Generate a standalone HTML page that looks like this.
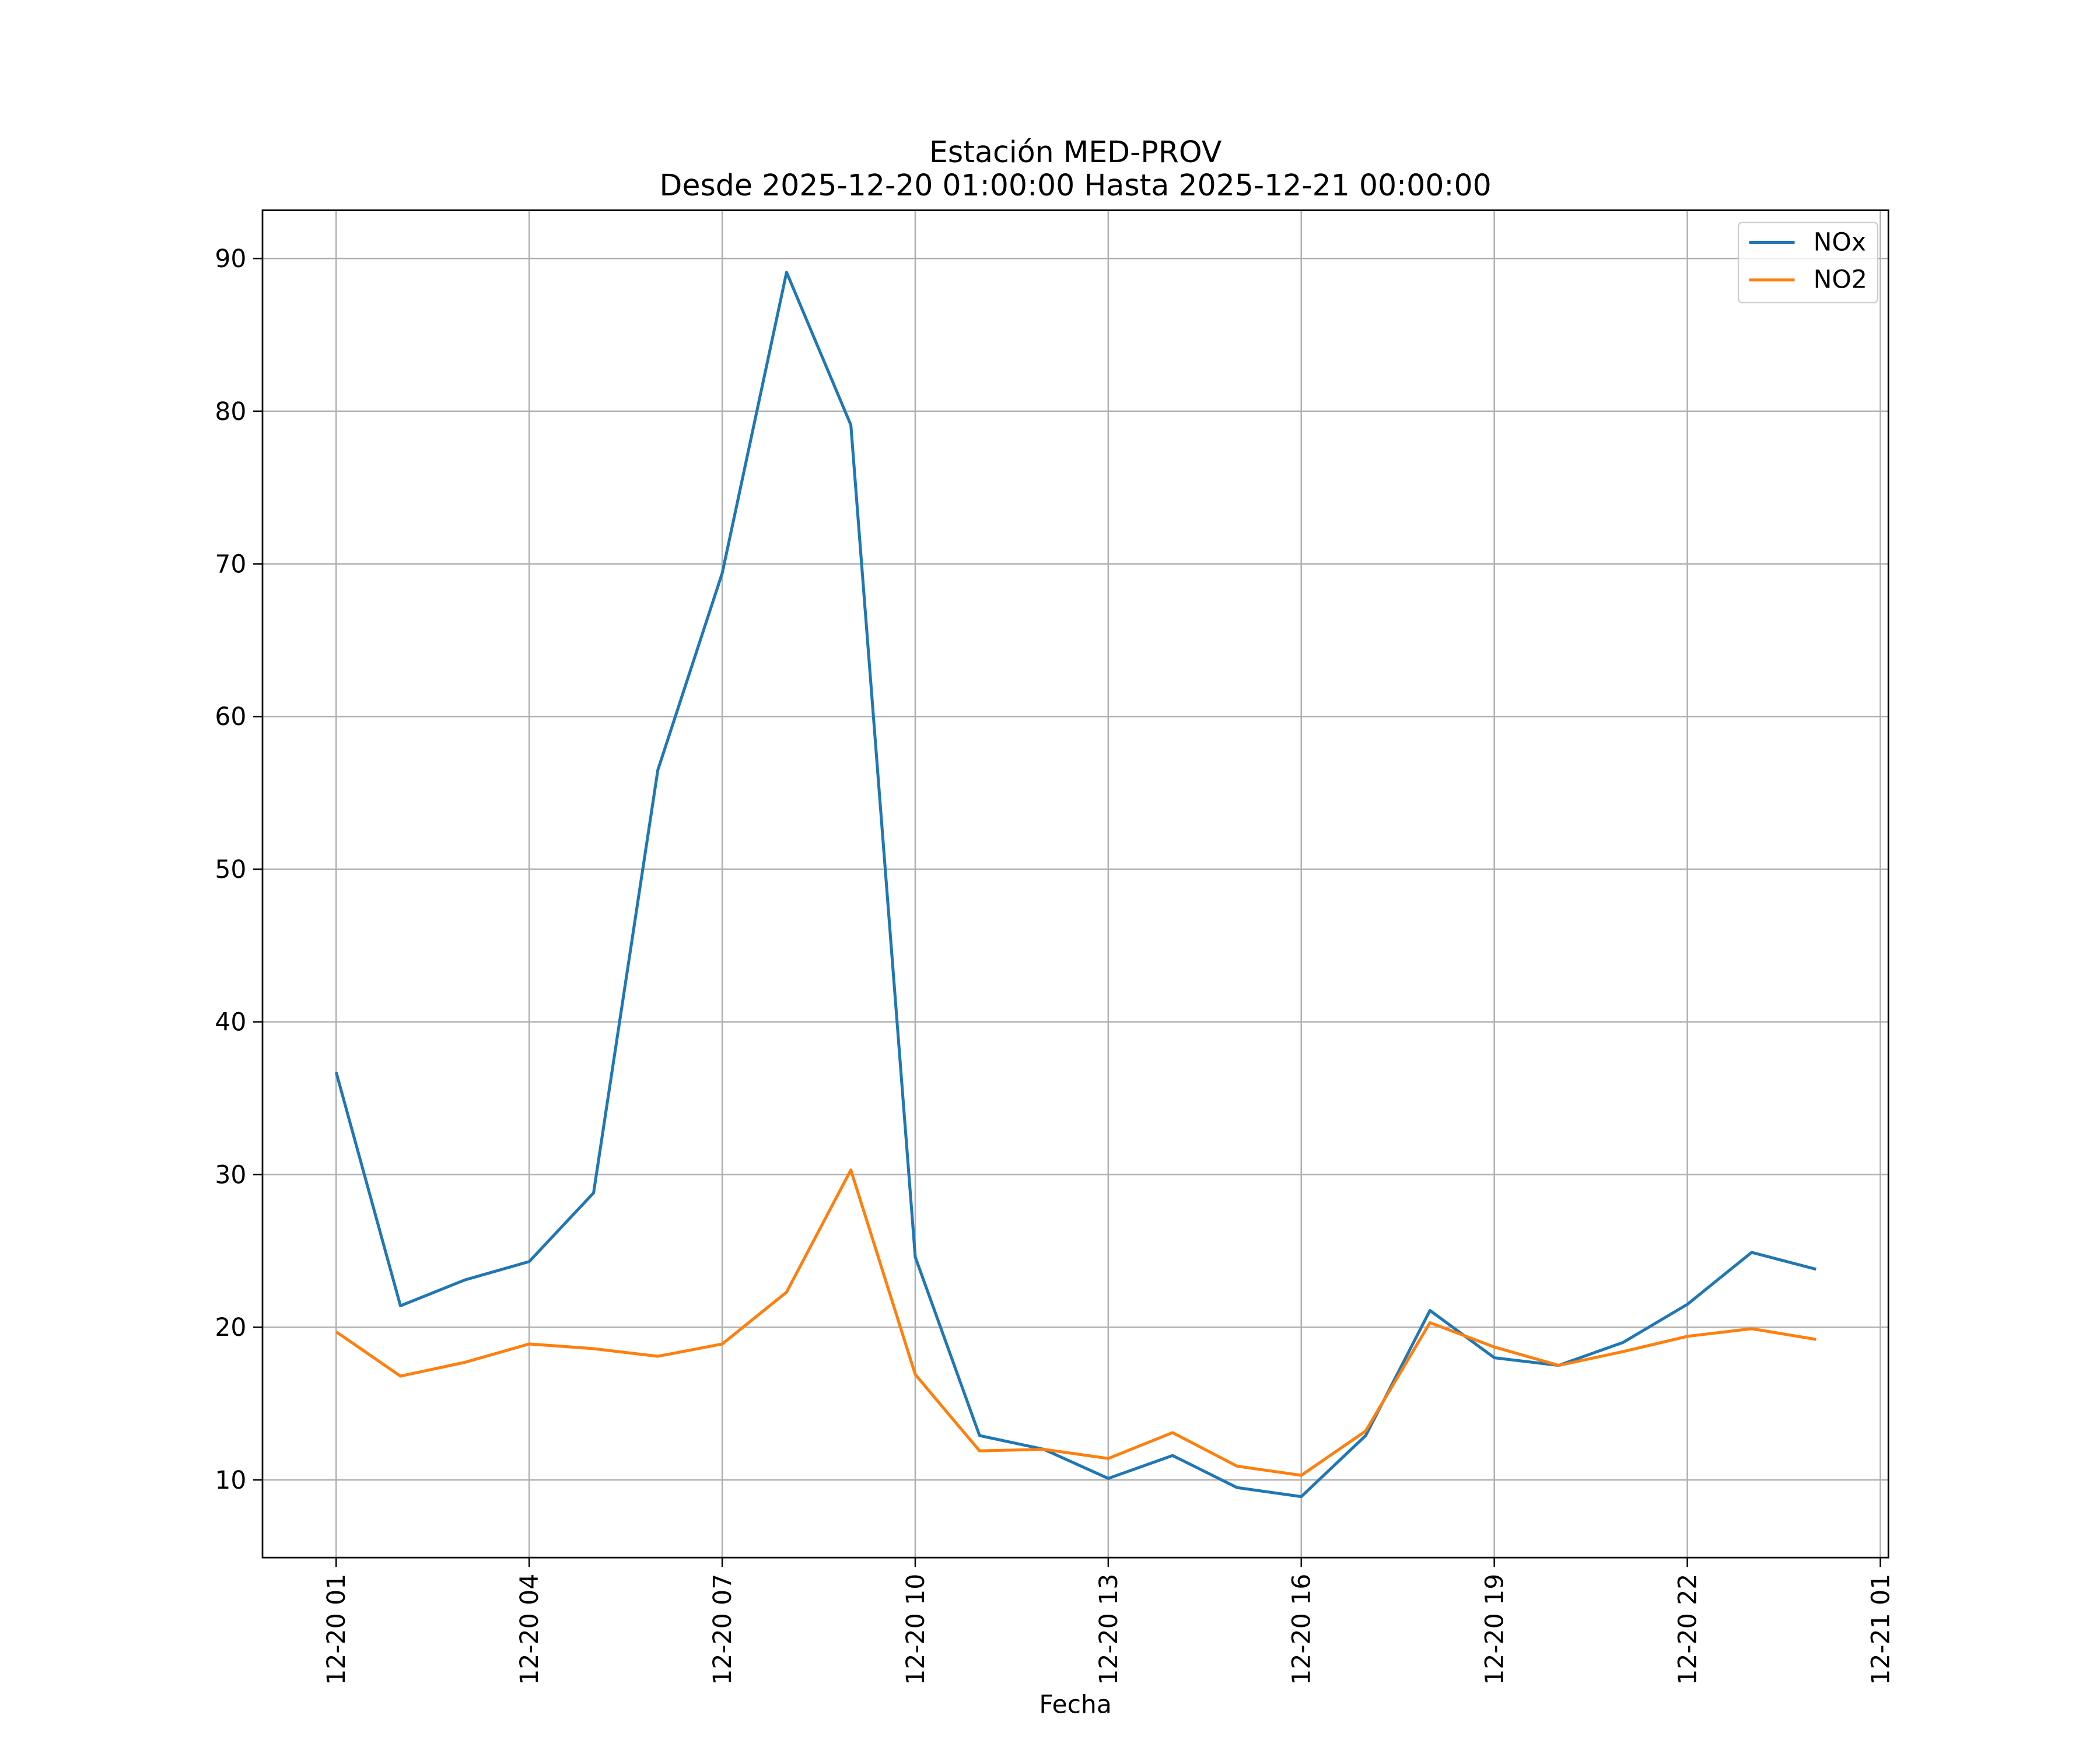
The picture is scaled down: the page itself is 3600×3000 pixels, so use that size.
<!DOCTYPE html>
<html><head><meta charset="utf-8">
<style>
html,body{margin:0;padding:0;background:#fff;}
svg{display:block;font-family:"DejaVu Sans","Liberation Sans",sans-serif;}
</style></head>
<body>
<svg id="chart" width="3600" height="3000" viewBox="0 0 1568 1306.67" xmlns="http://www.w3.org/2000/svg">
<rect width="1568" height="1307" fill="#fff"/>
<g id="grid"></g>
<g id="series"></g>
<rect x="196" y="157" width="1214" height="1006" fill="none" stroke="#000" stroke-width="1.2"/>
<g id="axes"></g>
<text x="803" y="121" text-anchor="middle" font-size="22">Estación MED-PROV</text>
<text x="803" y="146" text-anchor="middle" font-size="22">Desde 2025-12-20 01:00:00 Hasta 2025-12-21 00:00:00</text>
<text x="803" y="1279" text-anchor="middle" font-size="18.5">Fecha</text>
<g>
<rect x="1298" y="166" width="104" height="60" fill="#fff" fill-opacity="0.8" stroke="#ccc" rx="3"/>
<g>
<line x1="1306" y1="181" x2="1340" y2="181" stroke="#1f77b4" stroke-width="2.2"/>
<text x="1354" y="187" font-size="18.5">NOx</text></g>
<g>
<line x1="1306" y1="209" x2="1340" y2="209" stroke="#ff7f0e" stroke-width="2.2"/>
<text x="1354" y="215" font-size="18.5">NO2</text></g>
</g>
</svg>
<script>
const hours = [1,2,3,4,5,6,7,8,9,10,11,12,13,14,15,16,17,18,19,20,21,22,23,24];
const noxValues = [36.7,21.4,23.1,24.3,28.8,56.5,69.4,89.1,79.1,24.6,12.9,12.0,10.1,11.6,9.5,8.9,12.9,21.1,18.0,17.5,19.0,21.5,24.9,23.8];
const no2Values = [19.7,16.8,17.7,18.9,18.6,18.1,18.9,22.3,30.3,16.9,11.9,12.0,11.4,13.1,10.9,10.3,13.2,20.3,18.7,17.5,18.4,19.4,19.9,19.2];
const xTickHours = [1,4,7,10,13,16,19,22,25];
const xTickLabels = ["12-20 01","12-20 04","12-20 07","12-20 10","12-20 13","12-20 16","12-20 19","12-20 22","12-21 01"];
const yTicks = [10,20,30,40,50,60,70,80,90];

const NS="http://www.w3.org/2000/svg";
function xs(h){return 251+(h-1)*(1404-251)/24;}
function ys(v){return 1105-(v-10)*(1105-193)/80;}
function mk(tag,attrs,parent){const e=document.createElementNS(NS,tag);for(const k in attrs)e.setAttribute(k,attrs[k]);parent.appendChild(e);return e;}
const grid=document.getElementById('grid'),axes=document.getElementById('axes'),series=document.getElementById('series');
xTickHours.forEach((h,i)=>{
  const x=xs(h);
  const g=mk('line',{x1:x,x2:x,y1:157,y2:1163,stroke:'#b0b0b0','stroke-width':1.1},grid);
  
  
  const t=mk('line',{x1:x,x2:x,y1:1163,y2:1170,stroke:'#000','stroke-width':1.1},axes);
  
  
  const l=mk('text',{x:0,y:0,'font-size':18.5,'text-anchor':'end',transform:`translate(${x+6.5},1175) rotate(-90)`},axes);
  l.textContent=xTickLabels[i];
  
  
});
yTicks.forEach(v=>{
  const y=ys(v);
  const g=mk('line',{x1:196,x2:1410,y1:y,y2:y,stroke:'#b0b0b0','stroke-width':1.1},grid);
  
  
  const t=mk('line',{x1:189,x2:196,y1:y,y2:y,stroke:'#000','stroke-width':1.1},axes);
  
  
  const l=mk('text',{x:184,y:y+6.5,'font-size':18.5,'text-anchor':'end'},axes);
  l.textContent=String(v);
  
  
});
function line(vals,color,name){
  const pts=vals.map((v,i)=>xs(hours[i]).toFixed(1)+','+ys(v).toFixed(1)).join(' ');
  const p=mk('polyline',{points:pts,fill:'none',stroke:color,'stroke-width':2.2,'stroke-linejoin':'round'},series);
  
  
}
line(noxValues,'#1f77b4','nox-line');
line(no2Values,'#ff7f0e','no2-line');
</script>
</body></html>
